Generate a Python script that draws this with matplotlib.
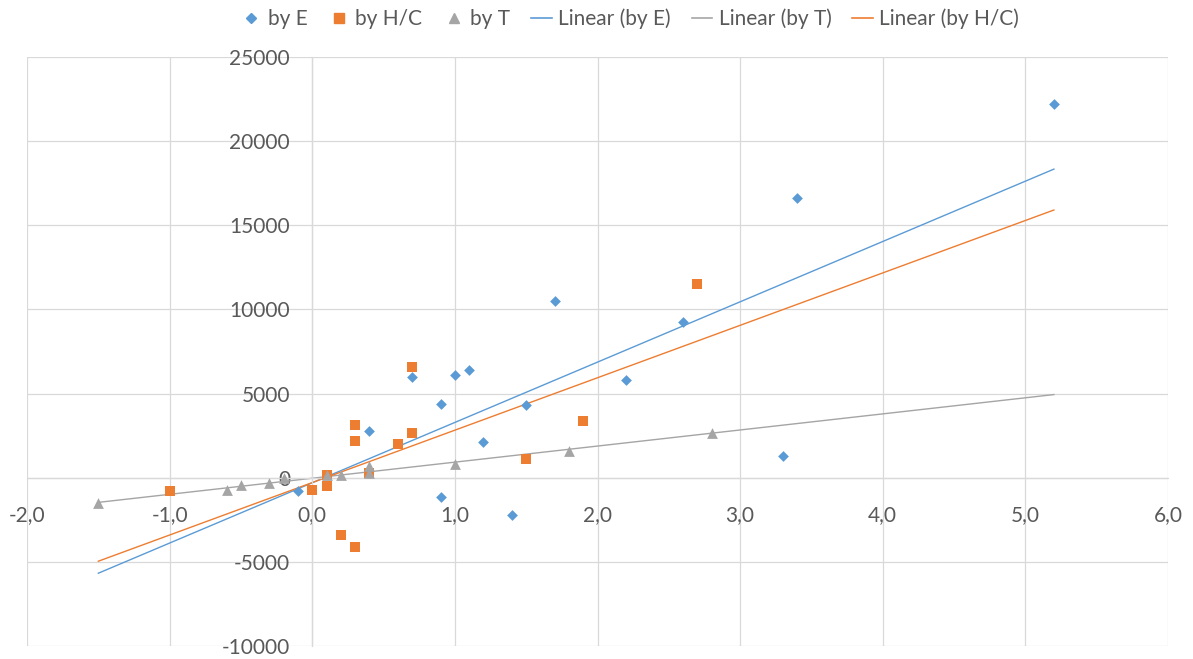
import matplotlib
matplotlib.use("Agg")
import matplotlib.pyplot as plt
from matplotlib.ticker import FuncFormatter, MultipleLocator
from matplotlib.lines import Line2D

plt.rcParams["font.family"] = ["Lato", "DejaVu Sans"]

# series "by E"
e_x = [5.2, 3.4, 2.6, 1.7, 2.2, 3.3, 1.5, 1.2, 1.4, 1.1, 1.0, 0.9, 0.9, 0.7, 0.4, -0.1]
e_y = [22200, 16650, 9250, 10530, 5820, 1300, 4320, 2150, -2200, 6400, 6100, 4380, -1120, 6000, 2780, -780]

# series "by H/C"
hc_x = [-1.0, 0.0, 0.1, 0.1, 0.2, 0.3, 0.3, 0.3, 0.4, 0.6, 0.7, 0.7, 1.5, 1.9, 2.7]
hc_y = [-780, -730, 150, -500, -3400, -4100, 3160, 2210, 300, 2030, 2630, 6560, 1130, 3380, 11500]

# series "by T"
t_x = [-1.5, -0.6, -0.5, -0.3, -0.2, 0.1, 0.2, 0.4, 0.4, 1.0, 1.8, 2.8]
t_y = [-1480, -750, -420, -320, 0, 180, 150, 690, 300, 830, 1580, 2670]

# linear trendlines (slope, intercept), drawn over x range
trend_range = [-1.5, 5.2]
trend_e = (3584, -299)
trend_t = (956, -31)
trend_hc = (3115, -290)

blue = "#5B9BD5"
orange = "#ED7D31"
grey = "#A5A5A5"
txt = "#595959"
gridc = "#D9D9D9"

fig = plt.figure(figsize=(11.93, 6.59), dpi=100)
ax = fig.add_axes([27 / 1193, 13 / 659, 1141 / 1193, 589 / 659])

ax.set_xlim(-2, 6)
ax.set_ylim(-10000, 25000)
ax.xaxis.set_major_locator(MultipleLocator(1))
ax.yaxis.set_major_locator(MultipleLocator(5000))
ax.grid(True, color=gridc, linewidth=0.9, zorder=0)
ax.set_axisbelow(True)

for s in ["top", "right"]:
    ax.spines[s].set_visible(False)
ax.spines["left"].set_position(("data", 0))
ax.spines["bottom"].set_position(("data", 0))
for s in ["left", "bottom"]:
    ax.spines[s].set_color(gridc)
    ax.spines[s].set_linewidth(0.9)

ax.xaxis.set_major_formatter(FuncFormatter(lambda v, p: f"{v:.1f}".replace(".", ",").replace("\u2212", "-")))
ax.yaxis.set_major_formatter(FuncFormatter(lambda v, p: f"{int(round(v))}"))
ax.tick_params(axis="both", length=0, labelsize=15, labelcolor=txt)
ax.tick_params(axis="x", pad=20)
ax.tick_params(axis="y", pad=16)

ax.scatter(e_x, e_y, marker="D", s=30, color=blue, zorder=3, linewidths=0)
ax.scatter(hc_x, hc_y, marker="s", s=50, color=orange, zorder=3, linewidths=0)
ax.scatter(t_x, t_y, marker="^", s=60, color=grey, zorder=3, linewidths=0)

for (m, b), c in [(trend_e, blue), (trend_t, grey), (trend_hc, orange)]:
    ax.plot(trend_range, [m * trend_range[0] + b, m * trend_range[1] + b], color=c, linewidth=1.0, zorder=2)

handles = [
    Line2D([], [], marker="D", color=blue, linestyle="none", markersize=5),
    Line2D([], [], marker="s", color=orange, linestyle="none", markersize=7),
    Line2D([], [], marker="^", color=grey, linestyle="none", markersize=7),
    Line2D([], [], color=blue, linewidth=1.2),
    Line2D([], [], color=grey, linewidth=1.2),
    Line2D([], [], color=orange, linewidth=1.2),
]
labels = ["by E", "by H/C", "by T", "Linear (by E)", "Linear (by T)", "Linear (by H/C)"]
fig.legend(handles, labels, loc="upper center", bbox_to_anchor=(0.528, 1.015), ncol=6, frameon=False,
           fontsize=15, labelcolor=txt, handlelength=1.0, handletextpad=0.3, columnspacing=1.0)

fig.savefig("out.png", dpi=100)
